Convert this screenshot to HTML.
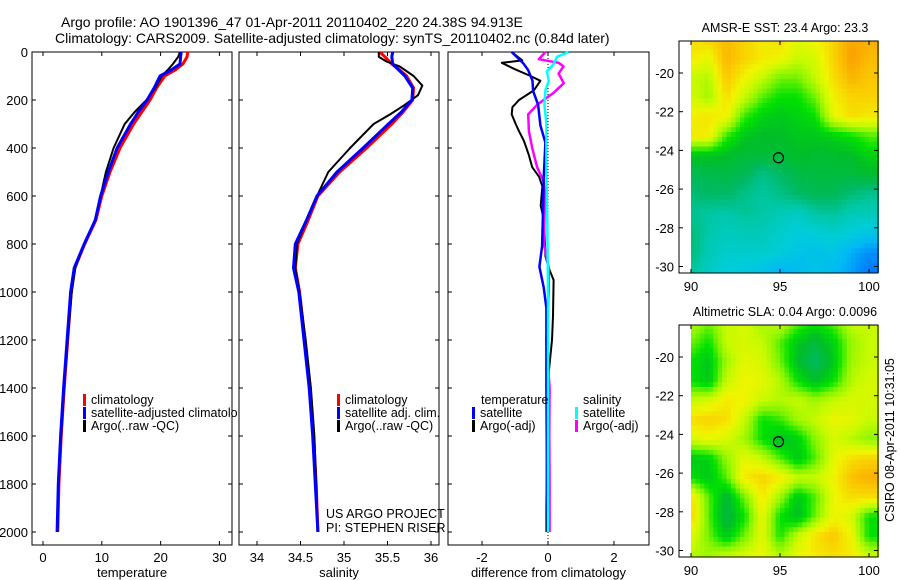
<!DOCTYPE html>
<html><head><meta charset="utf-8"><style>
body{margin:0;background:#fff;}
svg{display:block;font-family:"Liberation Sans",sans-serif;}
</style></head><body>
<svg id="fig" width="900" height="580" viewBox="0 0 900 580">
<defs><clipPath id="clipP1"><rect x="0" y="0" width="238" height="580"/></clipPath></defs>
<rect width="900" height="580" fill="#fff"/>
<text x="61" y="27" font-size="14">Argo profile: AO 1901396_47 01-Apr-2011 20110402_220 24.38S 94.913E</text>
<text x="55" y="43" font-size="14">Climatology: CARS2009. Satellite-adjusted climatology: synTS_20110402.nc (0.84d later)</text>
<g id="g"></g>
</svg>
<script>
// ---- data ----
const depths=[0,20,50,75,100,150,200,250,300,400,500,600,700,800,900,1000,1200,1400,1600,1800,2000];
const tempClim=[24.6,24.5,23.8,22.5,20.7,19.3,18.2,16.8,15.4,13.1,11.4,10,9,7.1,5.4,4.8,4.2,3.6,3.1,2.7,2.5];
const tempSat=[23.5,23.4,23.3,21.8,19.9,18.9,17.7,16.2,14.9,12.6,11.1,9.8,8.9,7.0,5.3,4.7,4.1,3.5,3.0,2.6,2.4];
const tempArgo=[23.3,23.0,22.1,21.2,20.2,19.1,17.6,15.6,13.9,12.0,10.7,9.8,8.9,7.0,5.5,4.9,4.2,3.6,3.1,2.6,2.5];
const salClim=[35.41,35.47,35.55,35.64,35.72,35.80,35.79,35.68,35.55,35.26,34.95,34.70,34.59,34.47,34.44,34.49,34.55,34.61,34.65,34.68,34.70];
const salSat=[35.56,35.55,35.56,35.63,35.70,35.79,35.78,35.66,35.51,35.22,34.92,34.69,34.57,34.44,34.42,34.48,34.54,34.60,34.64,34.67,34.70];
const salArgoDepths=[0,20,40,60,100,140,180,220,260,300,400,500,600,700,800,900,1000,1200,1400,1600,1800,2000];
const salArgo=[35.40,35.40,35.49,35.64,35.80,35.90,35.85,35.70,35.53,35.34,35.07,34.82,34.69,34.57,34.46,34.44,34.49,34.56,34.62,34.66,34.68,34.70];
const dTsDepths=[0,47,76,120,162,220,306,378,522,665,809,895,981,1067,1384,1600,1815,2000];
const dTsat=[-1.1,-0.75,-0.6,-0.47,-0.45,-0.3,-0.23,-0.08,-0.13,-0.15,-0.18,-0.26,-0.13,-0.05,-0.05,-0.04,-0.03,0];
const dTaDepths=[0,35,45,70,100,120,160,200,230,260,300,330,370,430,480,520,560,640,700,850,900,950,1100,1200,1300,1400,1600,1900,2000];
const dTargo=[-1.1,-0.78,-1.4,-1.03,-0.53,-0.23,-0.43,-0.88,-1.08,-1.1,-0.98,-0.88,-0.73,-0.58,-0.48,-0.27,-0.17,-0.22,-0.12,-0.08,0.02,0.17,0.15,0.12,0.05,-0.02,-0.03,-0.05,-0.05];
const dSsDepths=[0,20,50,80,120,160,220,300,400,500,700,1000,1500,2000];
const dSsat=[0.62,0.27,0.17,-0.03,0.02,-0.08,-0.11,-0.05,-0.05,-0.05,-0.02,0,0,0];
const dSaDepths=[0,30,45,60,90,130,170,220,260,330,400,480,540,600,800,900,1000,1200,1400,1600,1800,2000];
const dSargo=[-0.08,-0.28,0.32,0.47,0.32,0.48,0.17,-0.33,-0.6,-0.58,-0.48,-0.33,-0.13,-0.1,-0.12,0.02,0.02,-0.05,0.05,0.04,0.05,0.05];
const depthTicks=[0,200,400,600,800,1000,1200,1400,1600,1800,2000];
const tempTicks=[0,10,20,30];
const salTicks=[34,34.5,35,35.5,36];
const diffTicks=[-2,0,2];
const lonTicks=[90,95,100];
const latTicks=[-20,-22,-24,-26,-28,-30];
const mapLats=[-18,-19,-20,-21,-22,-23,-24,-25,-26,-27,-28,-29,-30];
const sstGrid=[
[0.8,0.82,0.86,0.82,0.78,0.8,0.74,0.76,0.82,0.9,0.88],
[0.78,0.74,0.87,0.82,0.78,0.76,0.7,0.72,0.82,0.91,0.86],
[0.7,0.68,0.84,0.76,0.7,0.62,0.62,0.7,0.8,0.87,0.84],
[0.72,0.66,0.8,0.7,0.6,0.55,0.55,0.62,0.77,0.82,0.82],
[0.77,0.79,0.76,0.58,0.52,0.5,0.52,0.55,0.74,0.8,0.78],
[0.78,0.77,0.58,0.5,0.48,0.48,0.5,0.5,0.52,0.55,0.6],
[0.5,0.5,0.48,0.46,0.46,0.46,0.48,0.47,0.47,0.48,0.52],
[0.42,0.43,0.44,0.42,0.36,0.4,0.44,0.45,0.45,0.45,0.47],
[0.38,0.4,0.4,0.36,0.33,0.36,0.4,0.42,0.42,0.38,0.35],
[0.35,0.33,0.32,0.34,0.33,0.3,0.28,0.33,0.34,0.3,0.3],
[0.38,0.32,0.29,0.3,0.3,0.27,0.24,0.25,0.27,0.25,0.22],
[0.38,0.3,0.27,0.27,0.27,0.25,0.22,0.21,0.22,0.17,0.13],
[0.34,0.28,0.24,0.23,0.21,0.17,0.19,0.21,0.19,0.15,0.1]];
const slaGrid=[
[0.68,0.62,0.7,0.72,0.66,0.7,0.6,0.55,0.6,0.7,0.7],
[0.62,0.55,0.7,0.72,0.7,0.6,0.5,0.45,0.52,0.65,0.7],
[0.55,0.5,0.66,0.74,0.72,0.62,0.48,0.4,0.5,0.66,0.7],
[0.55,0.5,0.7,0.76,0.74,0.68,0.55,0.48,0.55,0.68,0.72],
[0.7,0.72,0.78,0.76,0.7,0.68,0.7,0.66,0.7,0.72,0.72],
[0.8,0.82,0.8,0.7,0.55,0.58,0.66,0.7,0.75,0.74,0.7],
[0.72,0.75,0.72,0.66,0.55,0.48,0.52,0.64,0.72,0.68,0.64],
[0.5,0.52,0.65,0.74,0.7,0.6,0.5,0.6,0.74,0.8,0.82],
[0.55,0.5,0.6,0.78,0.82,0.78,0.7,0.7,0.76,0.85,0.88],
[0.8,0.6,0.46,0.62,0.78,0.66,0.5,0.6,0.75,0.8,0.8],
[0.82,0.6,0.44,0.55,0.75,0.55,0.48,0.62,0.76,0.72,0.55],
[0.74,0.62,0.5,0.62,0.74,0.56,0.7,0.8,0.84,0.76,0.55],
[0.68,0.66,0.7,0.72,0.75,0.68,0.74,0.78,0.8,0.78,0.7]];
const argoLon=94.913, argoLat=-24.38;

// ---- drawing ----
const NS='http://www.w3.org/2000/svg';
const G=document.getElementById('g');
function mk(tag,at,parent){const e=document.createElementNS(NS,tag);for(const k in at)e.setAttribute(k,at[k]);(parent||G).appendChild(e);return e;}
const yD=d=>52+d*0.24;
const P1={x0:32,x1:232,f:v=>43+v*5.88};
const P2={x0:239,x1:439,f:v=>257+(v-34)*87};
const P3={x0:448,x1:649,f:v=>548+v*33};
function frame(P,name,labels){
  const r=mk('rect',{x:P.x0,y:52,width:P.x1-P.x0,height:493,fill:'none',stroke:'#000','stroke-width':1});
  
  
  depthTicks.forEach(d=>{
    mk('line',{x1:P.x0,x2:P.x0+4,y1:yD(d),y2:yD(d),stroke:'#000'});
    mk('line',{x1:P.x1,x2:P.x1-4,y1:yD(d),y2:yD(d),stroke:'#000'});
    if(labels){const t=mk('text',{x:P.x0-4,y:yD(d)+5,'font-size':13,'text-anchor':'end'});t.textContent=d;
      
      }
  });
}
function xticks(P,ticks,title,name){
  ticks.forEach(v=>{const x=P.f(v);
    mk('line',{x1:x,x2:x,y1:545,y2:541,stroke:'#000'});mk('line',{x1:x,x2:x,y1:52,y2:56,stroke:'#000'});
    const t=mk('text',{x:x,y:562,'font-size':13,'text-anchor':'middle'});t.textContent=v;
    
    });
  const t=mk('text',{x:(P.x0+P.x1)/2,y:577,'font-size':13,'text-anchor':'middle'});t.textContent=title;
  
  
}
function line(P,ds,vs,col,w,name){
  const pts=ds.map((d,i)=>P.f(vs[i]).toFixed(1)+','+yD(d).toFixed(1)).join(' ');
  const l=mk('polyline',{points:pts,fill:'none',stroke:col,'stroke-width':w,'stroke-linejoin':'round'});
  
  
}
function leg(x,y,col,txt,name,clip){
  mk('rect',{x:x,y:y-10,width:3,height:12,fill:col});
  const t=mk('text',{x:x+8,y:y,'font-size':12.5});t.textContent=txt;
  if(clip)t.setAttribute('clip-path','url(#clipP1)');
  
  
}
frame(P1,'temperature-panel',true);frame(P2,'salinity-panel',false);frame(P3,'difference-panel',false);
xticks(P1,tempTicks,'temperature','temperature');xticks(P2,salTicks,'salinity','salinity');xticks(P3,diffTicks,'difference from climatology','difference');
mk('line',{x1:P3.f(0),x2:P3.f(0),y1:52,y2:545,stroke:'#000','stroke-dasharray':'1,2'});
line(P1,depths,tempClim,'#f00',3,'temperature-climatology-line');
line(P1,depths,tempArgo,'#000',2,'temperature-argo-line');
line(P1,depths,tempSat,'#00f',3,'temperature-satellite-line');
line(P2,depths,salClim,'#f00',3,'salinity-climatology-line');
line(P2,salArgoDepths,salArgo,'#000',2,'salinity-argo-line');
line(P2,depths,salSat,'#00f',3,'salinity-satellite-line');
line(P3,dTaDepths,dTargo,'#000',2,'temp-diff-argo-line');
line(P3,dSaDepths,dSargo,'#f0f',2.5,'sal-diff-argo-line');
line(P3,dTsDepths,dTsat,'#00f',2.5,'temp-diff-satellite-line');
line(P3,dSsDepths,dSsat,'#0ff',2.5,'sal-diff-satellite-line');
leg(83,404,'#f00','climatology','legend-climatology',true);
leg(83,417,'#00f','satellite-adjusted climatology','legend-satellite-adjusted',true);
leg(83,430,'#000','Argo(..raw -QC)','legend-argo',true);
leg(337,404,'#f00','climatology','legend-climatology-sal');
leg(337,417,'#00f','satellite adj. clim.','legend-satellite-sal');
leg(337,430,'#000','Argo(..raw -QC)','legend-argo-sal');
let t=mk('text',{x:326,y:518,'font-size':12.5});t.textContent='US ARGO PROJECT';


t=mk('text',{x:326,y:532,'font-size':12.5});t.textContent='PI: STEPHEN RISER';


t=mk('text',{x:481,y:404,'font-size':12.5});t.textContent='temperature';


t=mk('text',{x:583,y:404,'font-size':12.5});t.textContent='salinity';


leg(472,417,'#00f','satellite','legend-temp-satellite');
leg(472,430,'#000','Argo(-adj)','legend-temp-argo');
leg(575,417,'#0ff','satellite','legend-sal-satellite');
leg(575,430,'#f0f','Argo(-adj)','legend-sal-argo');

// ---- maps ----
const stops=[[0,[0,60,255]],[0.1,[0,120,255]],[0.18,[0,185,245]],[0.25,[0,205,215]],[0.32,[0,200,170]],[0.4,[0,185,100]],[0.48,[0,190,40]],[0.55,[0,225,0]],[0.63,[130,245,0]],[0.7,[200,250,0]],[0.76,[240,245,0]],[0.83,[250,205,0]],[0.9,[250,165,0]],[1,[240,110,0]]];
function cmap(v){v=Math.max(0,Math.min(1,v));for(let i=1;i<stops.length;i++){if(v<=stops[i][0]){const a=stops[i-1],b=stops[i],f=(v-a[0])/(b[0]-a[0]);
  return 'rgb('+a[1].map((c,k)=>Math.round(c+(b[1][k]-c)*f)).join(',')+')';}}return 'rgb(240,110,0)';}
function drawMap(grid,oy,title,name){
  const lx=lon=>691+(lon-90)*17.8, ly=lat=>oy+73+(-20-lat)*19.35;
  const top=oy+41,bot=oy+273;
  const g=mk('g',{});
  
  
  const step=0.25;
  for(let lat=-18.3;lat>-30.4;lat-=step){for(let lon=90;lon<100.6;lon+=step){
    const r=Math.min(12,Math.max(0,(-18-lat-step/2)));const c=Math.min(10,Math.max(0,lon+step/2-90));
    const r0=Math.min(11,Math.floor(r)),c0=Math.min(9,Math.floor(c)),fr=r-r0,fc=c-c0;
    const v=grid[r0][c0]*(1-fr)*(1-fc)+grid[r0][c0+1]*(1-fr)*fc+grid[r0+1][c0]*fr*(1-fc)+grid[r0+1][c0+1]*fr*fc;
    const x=lx(lon),y=ly(lat);
    mk('rect',{x:x.toFixed(1),y:Math.max(top,y).toFixed(1),width:(step*17.8+0.6).toFixed(1),height:(Math.min(bot,y+step*19.35+0.6)-Math.max(top,y)).toFixed(1),fill:cmap(v)},g);
  }}
  mk('rect',{x:879,y:top,width:10,height:bot-top+1,fill:'#fff'},g);
  mk('rect',{x:679,y:top,width:199,height:bot-top,fill:'none',stroke:'#000'});
  lonTicks.forEach(lon=>{const x=lx(lon);mk('line',{x1:x,x2:x,y1:bot,y2:bot-4,stroke:'#000'});mk('line',{x1:x,x2:x,y1:top,y2:top+4,stroke:'#000'});
    const t=mk('text',{x:x,y:bot+18,'font-size':13,'text-anchor':'middle'});t.textContent=lon;
    
    });
  latTicks.forEach(lat=>{const y=ly(lat);mk('line',{x1:679,x2:683,y1:y,y2:y,stroke:'#000'});mk('line',{x1:878,x2:874,y1:y,y2:y,stroke:'#000'});
    const t=mk('text',{x:674,y:y+5,'font-size':13,'text-anchor':'end'});t.textContent=lat;
    
    });
  const c=mk('ellipse',{cx:lx(argoLon),cy:ly(argoLat),rx:5,ry:5,fill:'none',stroke:'#000','stroke-width':1.2});
  
  
  const tt=mk('text',{x:785,y:oy+32,'font-size':12.5,'text-anchor':'middle'});tt.textContent=title;
  
  
}
drawMap(sstGrid,0,'AMSR-E SST: 23.4 Argo: 23.3','sst-map');
drawMap(slaGrid,284,'Altimetric SLA: 0.04 Argo: 0.0096','sla-map');
t=mk('text',{x:0,y:0,'font-size':12.5,'text-anchor':'middle',transform:'translate(894,440) rotate(-90)'});t.textContent='CSIRO 08-Apr-2011 10:31:05';


</script>
</body></html>
